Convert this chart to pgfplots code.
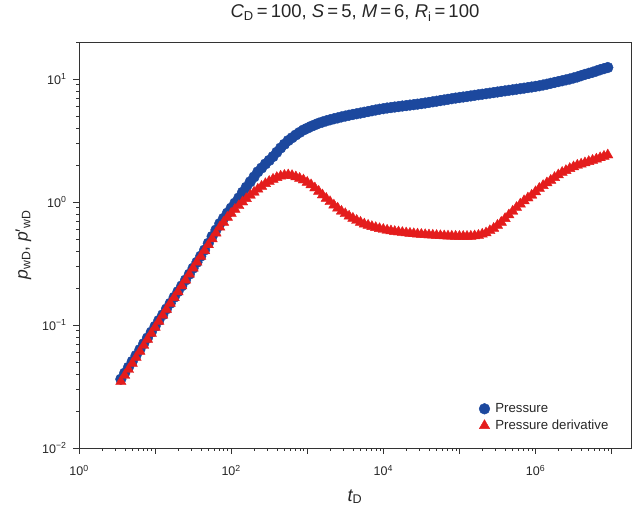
\documentclass[border=0pt]{standalone}
\usepackage{pgfplots}
\pgfplotsset{compat=1.18}
\usepackage{fontspec}
\setmainfont{Liberation Sans}
\definecolor{pblue}{RGB}{28,72,158}
\definecolor{pred}{RGB}{228,28,28}
\pgfplotstableread{
t p
3.55 0.0363
3.98 0.0406
4.47 0.0453
5.01 0.0506
5.62 0.0565
6.31 0.0631
7.08 0.0705
7.94 0.0785
8.91 0.0875
10.0 0.0976
11.2 0.109
12.6 0.121
14.1 0.135
15.8 0.150
17.8 0.168
20.0 0.187
22.4 0.208
25.1 0.232
28.2 0.259
31.6 0.290
35.5 0.324
39.8 0.363
44.7 0.407
50.1 0.462
56.2 0.525
63.1 0.592
70.8 0.668
79.4 0.737
89.1 0.813
100 0.893
112 0.98
126 1.08
141 1.20
158 1.32
178 1.46
200 1.60
224 1.76
251 1.89
282 2.04
316 2.18
355 2.34
398 2.54
447 2.75
501 2.95
562 3.16
631 3.33
708 3.51
794 3.68
891 3.85
1000 3.98
1122 4.12
1259 4.24
1413 4.37
1585 4.47
1778 4.57
1995 4.66
2239 4.75
2512 4.83
2818 4.92
3162 5.00
3548 5.08
3981 5.15
4467 5.22
5012 5.29
5623 5.37
6310 5.44
7079 5.52
7943 5.60
8913 5.68
10000 5.74
11220 5.81
12589 5.86
14125 5.92
15849 5.97
17783 6.03
19953 6.08
22387 6.14
25119 6.19
28184 6.25
31623 6.31
35481 6.38
39811 6.45
44668 6.53
50119 6.60
56234 6.68
63096 6.76
70795 6.84
79433 6.92
89125 7.00
100000 7.07
112200 7.14
125900 7.21
141300 7.29
158500 7.37
177800 7.45
199500 7.52
223900 7.60
251200 7.68
281800 7.76
316200 7.84
354800 7.93
398100 8.01
446700 8.09
501200 8.17
562300 8.26
631000 8.34
707900 8.43
794300 8.52
891300 8.61
1000000 8.71
1122000 8.81
1259000 8.94
1413000 9.08
1585000 9.23
1778000 9.38
1995000 9.53
2239000 9.68
2512000 9.84
2818000 10.0
3162000 10.2
3548000 10.4
3981000 10.65
4467000 10.9
5012000 11.12
5623000 11.35
6310000 11.62
7079000 11.9
7943000 12.15
8913000 12.4
}\pressure
\pgfplotstableread{
t d
3.55 0.0347
3.98 0.0389
4.47 0.0435
5.01 0.0487
5.62 0.0545
6.31 0.0610
7.08 0.0682
7.94 0.0764
8.91 0.0855
10.0 0.0957
11.2 0.107
12.6 0.120
14.1 0.134
15.8 0.150
17.8 0.167
20.0 0.186
22.4 0.208
25.1 0.232
28.2 0.259
31.6 0.290
35.5 0.324
39.8 0.361
44.7 0.403
50.1 0.449
56.2 0.501
63.1 0.559
70.8 0.624
79.4 0.684
89.1 0.75
100 0.808
112 0.871
126 0.933
141 1.0
158 1.065
178 1.135
200 1.20
224 1.27
251 1.34
282 1.41
316 1.47
355 1.53
398 1.58
447 1.62
501 1.645
562 1.66
631 1.64
708 1.60
794 1.555
891 1.51
1000 1.445
1122 1.38
1259 1.30
1413 1.22
1585 1.14
1778 1.07
1995 1.005
2239 0.944
2512 0.891
2818 0.841
3162 0.803
3548 0.767
3981 0.737
4467 0.708
5012 0.684
5623 0.661
6310 0.646
7079 0.631
7943 0.619
8913 0.607
10000 0.598
11220 0.589
12589 0.582
14125 0.575
15849 0.570
17783 0.565
19953 0.560
22387 0.556
25119 0.552
28184 0.548
31623 0.545
35481 0.542
39811 0.539
44668 0.537
50119 0.534
56234 0.532
63096 0.530
70795 0.528
79433 0.527
89125 0.526
100000 0.525
112200 0.525
125900 0.525
141300 0.526
158500 0.530
177800 0.535
199500 0.547
223900 0.560
251200 0.584
281800 0.610
316200 0.646
354800 0.684
398100 0.733
446700 0.785
501200 0.841
562300 0.902
631000 0.961
707900 1.023
794300 1.078
891300 1.135
1000000 1.21
1122000 1.29
1259000 1.36
1413000 1.43
1585000 1.50
1778000 1.58
1995000 1.66
2239000 1.74
2512000 1.80
2818000 1.87
3162000 1.93
3548000 1.99
3981000 2.03
4467000 2.08
5012000 2.13
5623000 2.18
6310000 2.23
7079000 2.29
7943000 2.35
8913000 2.41
}\derivative
\begin{document}
\begin{tikzpicture}
\begin{axis}[
  name=ax,
  scale only axis,
  width=552pt, height=406pt,
  xmode=log, ymode=log,
  xmin=1, xmax=1.8e7, ymin=0.01, ymax=20,
  axis line style={line width=0.8pt, black!80},
  tick style={line width=0.6pt, black!80},
  tick align=outside,
  xtick pos=bottom, ytick pos=left,
  major tick length=6pt, minor tick length=3pt,
  xtick={1,10,100,1000,1e4,1e5,1e6,1e7},
  xticklabels={10\textsuperscript{0},,10\textsuperscript{2},,10\textsuperscript{4},,10\textsuperscript{6},},
  ytick={0.01,0.1,1,10},
  yticklabels={10\textsuperscript{−2},10\textsuperscript{−1},10\textsuperscript{0},10\textsuperscript{1}},
  minor xtick={2,3,4,5,6,7,8,9,20,30,40,50,60,70,80,90,200,300,400,500,600,700,800,900,2000,3000,4000,5000,6000,7000,8000,9000,2e4,3e4,4e4,5e4,6e4,7e4,8e4,9e4,2e5,3e5,4e5,5e5,6e5,7e5,8e5,9e5,2e6,3e6,4e6,5e6,6e6,7e6,8e6,9e6},
  minor ytick={0.02,0.03,0.04,0.05,0.06,0.07,0.08,0.09,0.2,0.3,0.4,0.5,0.6,0.7,0.8,0.9,2,3,4,5,6,7,8,9,20},
  ticklabel style={font=\fontsize{12.5}{14}\selectfont, text=black!85},
  xticklabel style={yshift=-8pt},
  yticklabel style={xshift=-3pt},
  title={\itshape C\textsubscript{\upshape D}\upshape\,=\,100, \itshape S\upshape\,=\,5, \itshape M\upshape\,=\,6, \itshape R\textsubscript{\upshape i}\upshape\,=\,100},
  title style={font=\fontsize{18.5}{21}\selectfont, text=black!85, at={(axis description cs:0.5,1.057)}, anchor=center},
  xlabel={\itshape t\textsubscript{\upshape D}},
  xlabel style={font=\fontsize{18}{21}\selectfont, text=black!85, at={(axis description cs:0.5,-0.12)}, anchor=center},
  ylabel={\itshape p\textsubscript{\upshape wD}\upshape, \itshape p\upshape′\textsubscript{\upshape wD}},
  ylabel style={font=\fontsize{17.5}{20}\selectfont, text=black!85, at={(axis description cs:-0.1005,0.5)}, anchor=center},
  legend style={draw=none, fill=none, inner sep=0pt, at={(axis description cs:0.963,0.036)}, anchor=south east, font=\fontsize{13.2}{15}\selectfont, row sep=2pt, legend cell align=left, text=black!85},
  legend image code/.code={\draw[#1] plot coordinates {(0.2cm,0cm)};},
]
\addplot[only marks, mark=*, mark size=5.4pt, color=pblue, mark options={draw=pblue, fill=pblue}] table[x=t, y=p] {\pressure};
\addlegendentry{\hspace{3.5pt}Pressure}
\addplot[only marks, mark=triangle*, mark size=6pt, color=pred, mark options={draw=pred, fill=pred}] table[x=t, y=d] {\derivative};
\addlegendentry{\hspace{3.5pt}Pressure derivative}
\end{axis}
\pgfresetboundingbox
\path ([shift={(-79pt,-63pt)}]ax.south west) rectangle ([shift={(1pt,42pt)}]ax.north east);
\end{tikzpicture}
\end{document}
